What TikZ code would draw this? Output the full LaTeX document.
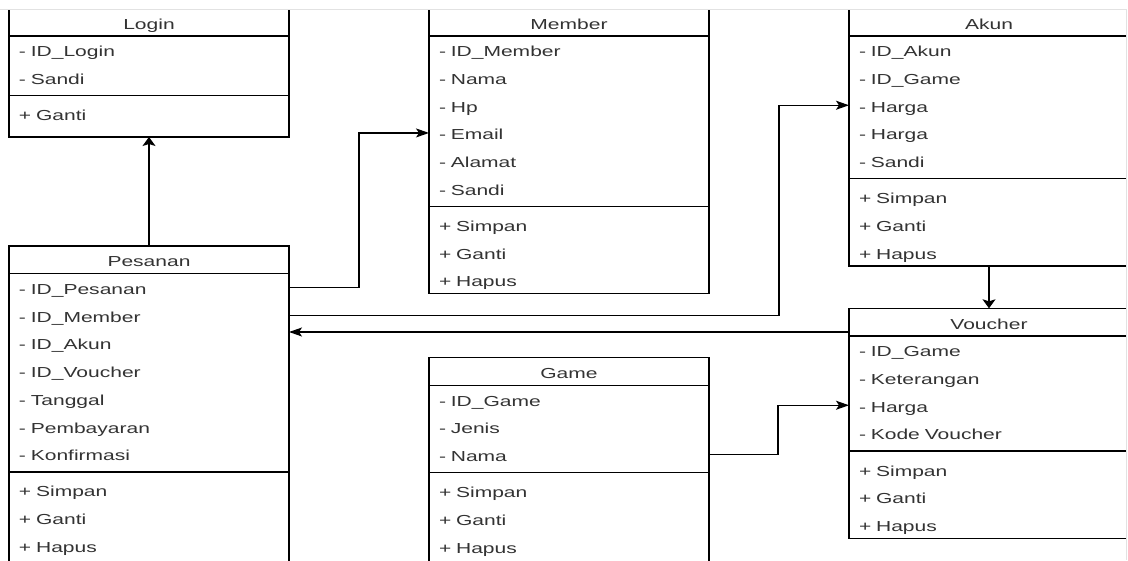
\documentclass[tikz,border=0pt]{standalone}
\usepackage{fontspec}
\setmainfont{Liberation Sans}[FakeStretch=1.45]
\usetikzlibrary{arrows.meta}
\definecolor{txt}{HTML}{333333}
\definecolor{framec}{HTML}{E2E2E2}
\tikzset{
  box/.style={draw=black, line width=1.3pt, fill=white, inner sep=0pt, outer sep=0pt, minimum width=280pt},
  vside/.style={draw=black, line width=1.9pt},
  ttl/.style={inner sep=0pt, outer sep=0pt, minimum width=280pt, minimum height=27.7pt, text=txt,
              font=\fontsize{14.5}{17}\selectfont, text height=14.5pt, text depth=0.5pt},
  row/.style={inner xsep=10pt, inner ysep=0pt, outer sep=0pt, text width=260pt, align=left,
              minimum height=27.7pt, text=txt, font=\fontsize{14.5}{17}\selectfont,
              text height=15pt, text depth=1pt},
  sepl/.style={draw=black, line width=1.3pt},
  conn/.style={draw=black, line width=1.2pt},
  harr/.style={conn, -{Stealth[length=13pt, width=9pt, inset=3pt]}},
  varr/.style={conn, -{Stealth[length=9pt, width=13pt, inset=2pt]}},
}
% #1 name, #2 x, #3 ytop, #4 title, #5 number of attributes, #6 attributes, #7 methods, #8 height
\newcommand\umlclass[8]{%
  \node[box, minimum height=#8pt, anchor=north west] (#1) at (#2,#3) {};
  \draw[vside] (#1.north west) -- (#1.south west) (#1.north east) -- (#1.south east);
  \node[ttl, anchor=north west] (#1T) at (#2,#3) {#4};
  \draw[sepl] (#1T.south west) -- (#1T.south east);
  \foreach \lbl [count=\i] in {#6} {\node[row, anchor=north west] (#1A\i) at (#2,{#3+27.7*\i}) {- \lbl};}
  \coordinate (#1S) at (#2,{#3+27.7*(#5+1)+4.26});
  \draw[sepl] (#1S) -- ++(280,0);
  \foreach \lbl [count=\i] in {#7} {\node[row, anchor=north west] (#1M\i) at (#2,{#3+27.7*(#5+1)+8.5+27.7*(\i-1)}) {+ \lbl};}
}
\begin{document}
\begin{tikzpicture}[x=1pt, y=-1pt]
\useasboundingbox (0,0) rectangle (1128,560);
\fill[white] (0,0) rectangle (1128,560);
\begin{scope}
\clip (0,9.3) rectangle (1126.3,560);
\umlclass{log}{9}{8.3}{Login}{2}{ID\_Login, Sandi}{Ganti}{128.7}
\umlclass{mem}{429}{8.3}{Member}{6}{ID\_Member, Nama, Hp, Email, Alamat, Sandi}{Simpan, Ganti, Hapus}{285.5}
\umlclass{aku}{849}{8.3}{Akun}{5}{ID\_Akun, ID\_Game, Harga, Harga, Sandi}{Simpan, Ganti, Hapus}{257.8}
\umlclass{pes}{9}{246}{Pesanan}{7}{ID\_Pesanan, ID\_Member, ID\_Akun, ID\_Voucher, Tanggal, Pembayaran, Konfirmasi}{Simpan, Ganti, Hapus}{320}
\umlclass{gam}{429}{357.7}{Game}{3}{ID\_Game, Jenis, Nama}{Simpan, Ganti, Hapus}{215}
\umlclass{voc}{849}{308.3}{Voucher}{4}{ID\_Game, Keterangan, Harga, Kode Voucher}{Simpan, Ganti, Hapus}{230.1}
\coordinate (b1) at (359,0);
\coordinate (b2) at (779,0);
\coordinate (b3) at (778,0);
\draw[varr] (pesT.north) -- (log.south);
\draw[harr] (pesA1.east) -| (b1 |- memA4.west) -- (memA4.west);
\draw[harr] (pesA2.east) -| (b2 |- akuA3.west) -- (akuA3.west);
\draw[harr] ([yshift=4pt]vocT.south west) -- ([yshift=4pt]vocT.south west -| pes.east);
\draw[varr] (aku.south) -- (vocT.north);
\draw[harr] (gamA3.east) -| (b3 |- vocA3.west) -- (vocA3.west);
\end{scope}
\draw[framec, line width=1pt] (0,9.3) -- (1126.3,9.3) -- (1126.3,560);
\end{tikzpicture}
\end{document}
